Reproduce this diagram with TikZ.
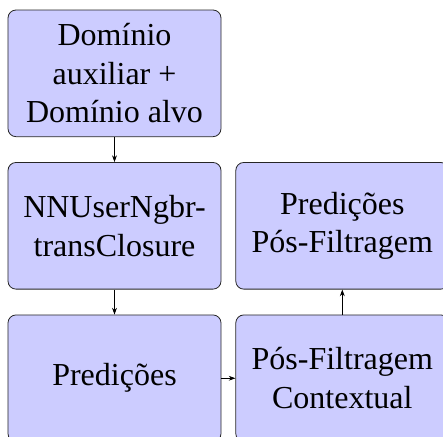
\documentclass[tikz,border=0pt]{standalone}
\usepackage{fontspec}
\setmainfont{Liberation Serif}
\usepackage{amsmath}
\usetikzlibrary{shapes,positioning,calc,arrows.meta}

\tikzset{
    bloco/.style={draw=black!85, line width=0.6pt, fill=blue!20, rounded corners=6pt,
        minimum width=159.75pt, minimum height=95pt, inner sep=2pt, align=center,
        font=\fontsize{24}{29}\selectfont},
    seta/.style={-{Stealth[length=5pt,width=3.6pt]}, line width=0.5pt}
}

\begin{document}
\begin{tikzpicture}
            \def\vgap{18.75pt} % Define the distance between rows
            \def\hgap{10.5pt} % Define the distance between columns

            % the first box sits at the origin, its north west corner at (-79.875pt, 47.5pt)
            \useasboundingbox (-85.875pt, 55pt) rectangle ++(332.25pt,-327pt);

            \node[bloco] (dom) at (0,0) {Domínio\\auxiliar +\\Domínio alvo};
            \node[bloco, below=\vgap of dom] (nnu) {NNUserNgbr-\\transClosure};
            \node[bloco, below=\vgap of nnu] (pred) {Predições};
            \node[bloco, right=\hgap of pred] (posf) {Pós-Filtragem\\Contextual};
            \node[bloco, above=\vgap of posf] (predpos) {Predições\\Pós-Filtragem};

            \draw[seta] (dom) -- (nnu);
            \draw[seta] (nnu) -- (pred);
            \draw[seta] (pred) -- (posf);
            \draw[seta] (posf) -- (predpos);
        \end{tikzpicture}
\end{document}
